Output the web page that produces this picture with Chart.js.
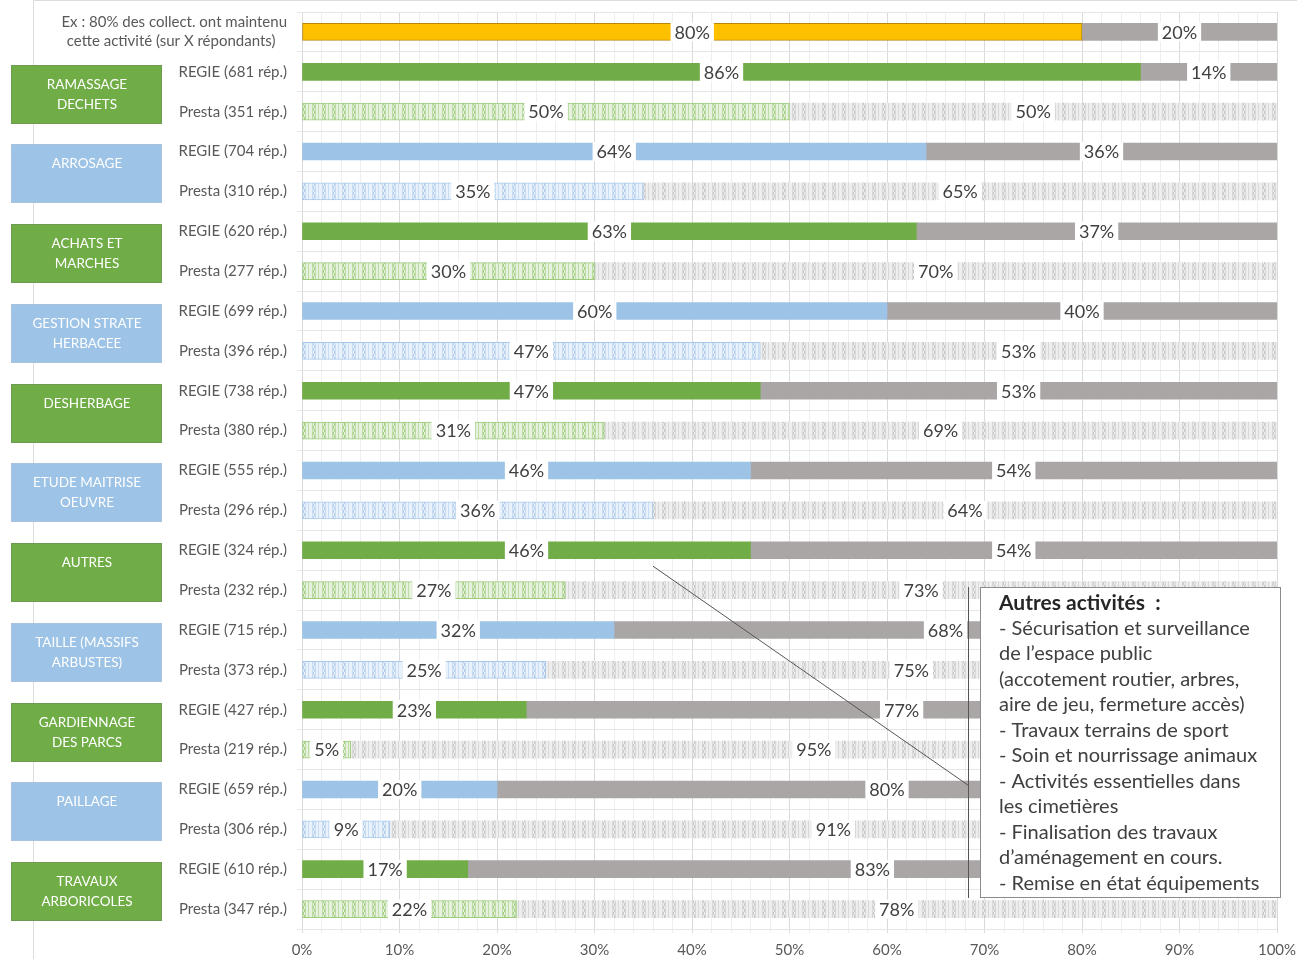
<!DOCTYPE html>
<html>
<head>
<meta charset="utf-8">
<script src="https://cdn.jsdelivr.net/npm/chart.js@4/dist/chart.umd.min.js"></script>
<style>
  html, body { margin: 0; padding: 0; background: #fff; }
  #wrap { width: 1297px; height: 959px; position: relative; }
</style>
</head>
<body>
<div id="wrap"><canvas id="activity-chart"></canvas></div>
<script>
// categories (left boxes), one REGIE + one Presta row each
const categories = [
  ['RAMASSAGE', 'DECHETS'], ['ARROSAGE'], ['ACHATS ET', 'MARCHES'],
  ['GESTION STRATE', 'HERBACEE'], ['DESHERBAGE'], ['ETUDE MAITRISE', 'OEUVRE'],
  ['AUTRES'], ['TAILLE (MASSIFS', 'ARBUSTES)'], ['GARDIENNAGE', 'DES PARCS'],
  ['PAILLAGE'], ['TRAVAUX', 'ARBORICOLES']
];
const regieCounts  = [681, 704, 620, 699, 738, 555, 324, 715, 427, 659, 610];
const prestaCounts = [351, 310, 277, 396, 380, 296, 232, 373, 219, 306, 347];

// share that maintained the activity / share that did not
const exampleShare = 80;
const exampleRest = 20;
const regieShare  = [86, 64, 63, 60, 47, 46, 46, 32, 23, 20, 17];
const regieRest   = [14, 36, 37, 40, 53, 54, 54, 68, 77, 80, 83];
const prestaShare = [50, 35, 30, 47, 31, 36, 27, 25, 5, 9, 22];
const prestaRest  = [50, 65, 70, 53, 69, 64, 73, 75, 95, 91, 78];

const xTicks = [0, 10, 20, 30, 40, 50, 60, 70, 80, 90, 100];

const noteTitle = 'Autres activités  :';
const noteLines = [
  '- Sécurisation et surveillance',
  'de l\u2019espace public',
  '(accotement routier, arbres,',
  'aire de jeu, fermeture accès)',
  '- Travaux terrains de sport',
  '- Soin et nourrissage animaux',
  '- Activités essentielles dans',
  'les cimetières',
  '- Finalisation des travaux',
  'd\u2019aménagement en cours.',
  '- Remise en état équipements'
];

const FONT = 'Lato, "Noto Sans", sans-serif';
const GREEN = '#70AD47', BLUE = '#9DC3E6', GREY = '#AAA6A6', ORANGE = '#FFC000';

function makePattern(bg, stripe, dark) {
  const c = document.createElement('canvas');
  c.width = 10; c.height = 6;
  const g = c.getContext('2d');
  g.fillStyle = bg; g.fillRect(0, 0, 10, 6);
  g.fillStyle = stripe;
  g.fillRect(2, 0, 1, 6);
  g.fillRect(5, 0, 1, 6);
  g.fillRect(8, 0, 1, 6);
  g.fillStyle = dark;
  g.fillRect(3, 0, 1, 3);
  g.fillRect(4, 3, 1, 3);
  return g.createPattern(c, 'repeat');
}
const greenPat = makePattern('#E6F2DD', '#BEDCA6', '#A6CF87');
const bluePat  = makePattern('#E9F2FB', '#C8DCF2', '#B2CEEC');
const greyPat  = makePattern('#EEEEEE', '#D8D8D8', '#C8C8C8');

// rows
const rowLabels = [['Ex : 80% des collect. ont maintenu', 'cette activité (sur X répondants)   ']];
const firstVals = [exampleShare], restVals = [exampleRest];
const firstBg = [ORANGE], firstBorder = ['#B8860B'], firstBw = [1];
const restBg = [GREY];
categories.forEach((cat, i) => {
  const green = i % 2 === 0;
  rowLabels.push('REGIE (' + regieCounts[i] + ' rép.)');
  rowLabels.push('Presta (' + prestaCounts[i] + ' rép.)');
  firstVals.push(regieShare[i], prestaShare[i]);
  restVals.push(regieRest[i], prestaRest[i]);
  firstBg.push(green ? GREEN : BLUE, green ? greenPat : bluePat);
  firstBorder.push('rgba(0,0,0,0)', green ? '#9CCB7C' : '#A9C9EC');
  firstBw.push(0, 1);
  restBg.push(GREY, greyPat);
});

const labelPlugin = {
  id: 'segLabels',
  afterDatasetsDraw(chart) {
    const ctx = chart.ctx;
    ctx.save();
    ctx.font = '18px ' + FONT;
    ctx.textAlign = 'center';
    ctx.textBaseline = 'middle';
    chart.data.datasets.forEach((ds, di) => {
      chart.getDatasetMeta(di).data.forEach((bar, i) => {
        const cx = (bar.x + bar.base) / 2;
        const txt = ds.data[i] + '%';
        const w = ctx.measureText(txt).width + 8;
        ctx.fillStyle = '#fff';
        ctx.fillRect(cx - w / 2, bar.y - bar.height / 2 - 1, w, bar.height + 2);
        ctx.fillStyle = '#404040';
        ctx.fillText(txt, cx, bar.y + 1);
      });
    });
    ctx.restore();
  }
};

const decorPlugin = {
  id: 'decor',
  beforeDraw(chart) {
    const ctx = chart.ctx;
    ctx.save();
    ctx.strokeStyle = '#DDDDDD';
    ctx.lineWidth = 1;
    ctx.beginPath();
    ctx.moveTo(33.5, 959); ctx.lineTo(33.5, 0.5); ctx.lineTo(1297, 0.5);
    ctx.stroke();
    ctx.restore();
  },
  afterDraw(chart) {
    const ctx = chart.ctx;
    const y = chart.scales.y, x = chart.scales.x;
    ctx.save();
    // category boxes
    categories.forEach((cat, i) => {
      const cy = (y.getPixelForValue(1 + 2 * i) + y.getPixelForValue(2 + 2 * i)) / 2;
      const top = Math.round(cy - 27);
      ctx.fillStyle = i % 2 === 0 ? GREEN : BLUE;
      ctx.fillRect(11, top, 151, 59);
      ctx.strokeStyle = i % 2 === 0 ? '#6E9A52' : '#A9C3DC';
      ctx.lineWidth = 1;
      ctx.strokeRect(11.5, top + 0.5, 150, 58);
      ctx.fillStyle = '#fff';
      ctx.font = '13.5px ' + FONT;
      ctx.textAlign = 'center';
      ctx.textBaseline = 'middle';
      cat.forEach((line, k) => ctx.fillText(line, 87, top + 20 + k * 19.5));
    });
    // callout line
    ctx.strokeStyle = '#555';
    ctx.lineWidth = 1;
    ctx.beginPath();
    ctx.moveTo(x.getPixelForValue(36), y.getPixelForValue(13.4));
    ctx.lineTo(968.5, y.getPixelForValue(18.9));
    ctx.moveTo(968.5, 587); ctx.lineTo(968.5, 898);
    ctx.stroke();
    // note box
    ctx.fillStyle = '#fff';
    ctx.fillRect(980, 587, 301, 311);
    ctx.strokeStyle = '#8C8C8C';
    ctx.strokeRect(980.5, 587.5, 300, 310);
    ctx.textAlign = 'left';
    ctx.textBaseline = 'middle';
    ctx.fillStyle = '#262626';
    ctx.font = 'bold 21px ' + FONT;
    ctx.fillText(noteTitle, 999, 603);
    ctx.fillStyle = '#404040';
    ctx.font = '20px ' + FONT;
    noteLines.forEach((line, k) => ctx.fillText(line, 999, 628.5 + k * 25.5));
    ctx.restore();
  }
};

new Chart(document.getElementById('activity-chart'), {
  type: 'bar',
  data: {
    labels: rowLabels,
    datasets: [
      { data: firstVals, backgroundColor: firstBg, borderColor: firstBorder, borderWidth: firstBw, borderSkipped: false, barThickness: 17 },
      { data: restVals, backgroundColor: restBg, borderWidth: 0, barThickness: 17 }
    ]
  },
  options: {
    indexAxis: 'y',
    responsive: true,
    maintainAspectRatio: false,
    animation: false,
    layout: { padding: { left: 0, right: 20, top: 12, bottom: 0 } },
    plugins: { legend: { display: false }, tooltip: { enabled: false } },
    scales: {
      x: {
        stacked: true,
        min: 0, max: 100,
        afterFit(s) { s.height = 30; s.paddingLeft = 0; s.paddingRight = 0; },
        afterBuildTicks(s) {
          const t = [];
          for (let v = 0; v <= 100; v += 2) t.push({ value: v });
          s.ticks = t;
        },
        ticks: {
          autoSkip: false,
          maxRotation: 0,
          padding: 8,
          color: '#595959',
          font: { family: FONT, size: 15 },
          callback: v => xTicks.includes(v) ? v + '%' : ''
        },
        grid: {
          color: c => (c.tick && c.tick.value % 10 === 0) ? '#DADADA' : '#EFEFEF',
          tickLength: 4
        },
        border: { display: false }
      },
      y: {
        stacked: true,
        afterFit(s) { s.width = 302; s.paddingTop = 0; s.paddingBottom = 0; },
        ticks: {
          autoSkip: false,
          padding: 10,
          color: '#595959',
          font: { family: FONT, size: 15, lineHeight: 1.25 }
        },
        grid: { offset: true, color: '#E6E6E6', tickLength: 5 },
        border: { display: false }
      }
    }
  },
  plugins: [decorPlugin, labelPlugin]
});
</script>
</body>
</html>
